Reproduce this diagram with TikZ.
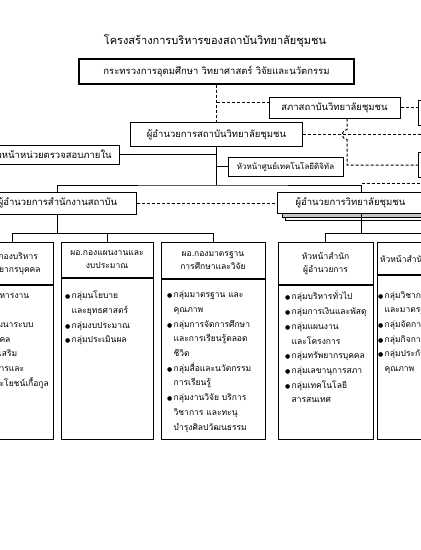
\documentclass[tikz,border=0pt]{standalone}
\usepackage{fontspec}
\setmainfont{Loma}[Script=Thai]
\newfontfamily\dotfont{DejaVu Sans}
\usepackage{tikz}
\usetikzlibrary{positioning, shadows}
\newcommand{\itm}{\makebox[6.5pt][l]{\dotfont\fontsize{6}{6}\selectfont ●}}
\newcommand{\cnt}{\hspace*{6.5pt}}
\tikzset{%
	unitbox/.style={
		draw,
		line width=1pt,
		fill=white,
		inner sep=0pt,
		font=\fontsize{9.5}{11}\selectfont
	},
	topbox/.style={unitbox, line width=1.7pt},
	headbox/.style={
		draw,
		line width=1pt,
		fill=white,
		anchor=north,
		align=center,
		inner sep=0pt,
		font=\fontsize{8.5}{13}\selectfont
	},
	bodybox/.style={draw, line width=1pt, anchor=north, inner sep=0pt},
	bodytext/.style={anchor=north west, align=left, inner sep=0pt, font=\fontsize{8.5}{14.7}\selectfont},
	link/.style={line width=1pt},
	dlink/.style={line width=1pt, dash pattern=on 3pt off 2pt},
}
\begin{document}
\begin{tikzpicture}[x=1pt, y=-1pt]
	\useasboundingbox (0,0) rectangle (421,550);
	\fill[white] (0,0) rectangle (421,550);
	\clip (0,0) rectangle (421,550);
	\coordinate (edgeR) at (430,0);
	
	% Title and ministry
	\node[font=\fontsize{11}{13}\selectfont] (title) at (215,41) {โครงสร้างการบริหารของสถาบันวิทยาลัยชุมชน};
	\node[topbox, minimum width=275pt, minimum height=25pt] (ministry) at (216.5,71.5) {กระทรวงการอุดมศึกษา วิทยาศาสตร์ วิจัยและนวัตกรรม};
	
	% Council and director
	\node[unitbox, minimum width=131pt, minimum height=21pt] (council) at (334.5,107.5) {สภาสถาบันวิทยาลัยชุมชน};
	\node[unitbox, minimum width=172pt, minimum height=24pt] (director) at (216.5,134.5) {ผู้อำนวยการสถาบันวิทยาลัยชุมชน};
	\node[unitbox, minimum width=60pt, minimum height=25pt, anchor=west] (rightA) at (418,112.5) {};
	\node[unitbox, minimum width=60pt, minimum height=25pt, anchor=west] (rightB) at (418,165) {};
	
	% Audit and digital units
	\node[unitbox, minimum width=136pt, minimum height=19pt] (audit) at (51,154.5) {หัวหน้าหน่วยตรวจสอบภายใน};
	\node[unitbox, minimum width=115pt, minimum height=19pt, font=\fontsize{8}{10}\selectfont] (digital) at (285.5,166.5) {หัวหน้าศูนย์เทคโนโลยีดิจิทัล};
	
	% Office and college
	\node[unitbox, minimum width=157pt, minimum height=22pt] (office) at (57.5,203) {ผู้อำนวยการสำนักงานสถาบัน};
	\node[unitbox, minimum height=21pt, anchor=west, text width=132pt, align=left, inner xsep=18pt,
		copy shadow={shadow xshift=8pt, shadow yshift=-7pt},
		copy shadow={shadow xshift=5pt, shadow yshift=-4pt, fill=gray!45}] (college) at (277,203) {ผู้อำนวยการวิทยาลัยชุมชน};
	
	% Division heads
	\node[headbox, minimum width=82pt, minimum height=42pt] (headA) at (12,242) {ผอ.กองบริหาร\\ทรัพยากรบุคคล};
	\node[headbox, minimum width=92pt, minimum height=35pt] (headB) at (107,242) {ผอ.กองแผนงานและ\\งบประมาณ};
	\node[headbox, minimum width=104pt, minimum height=36pt] (headC) at (213,242) {ผอ.กองมาตรฐาน\\การศึกษาและวิจัย};
	\node[headbox, minimum width=95pt, minimum height=42pt] (headD) at (325.5,242) {หัวหน้าสำนัก\\ผู้อำนวยการ};
	\node[headbox, minimum width=100pt, minimum height=32pt, text width=94pt, align=left, inner xsep=3pt] (headE) at (427,242) {หัวหน้าสำนักวิชาการ};
	
	% Division groups
	\node[bodybox, minimum width=82pt, minimum height=154pt] (bodyA) at (headA.south) {};
	\node[bodybox, minimum width=92pt, minimum height=161pt] (bodyB) at (headB.south) {};
	\node[bodybox, minimum width=104pt, minimum height=160pt] (bodyC) at (headC.south) {};
	\node[bodybox, minimum width=95pt, minimum height=154pt] (bodyD) at (headD.south) {};
	\node[bodybox, minimum width=100pt, minimum height=164pt] (bodyE) at (headE.south) {};
	
	\node[bodytext] (textA) at (-33,291) {\itm กลุ่มบริหารงาน\\\cnt บุคคล\\\itm กลุ่มพัฒนาระบบ\\\cnt งานบุคคล\\\itm กลุ่มส่งเสริม\\\cnt สวัสดิการและ\\\cnt สิทธิประโยชน์เกื้อกูล};
	\node[bodytext] (textB) at (65,291) {\itm กลุ่มนโยบาย\\\cnt และยุทธศาสตร์\\\itm กลุ่มงบประมาณ\\\itm กลุ่มประเมินผล};
	\node[bodytext] (textC) at (167,291) {\itm กลุ่มมาตรฐาน และ\\\cnt คุณภาพ\\\itm กลุ่มการจัดการศึกษา\\\cnt และการเรียนรู้ตลอด\\\cnt ชีวิต\\\itm กลุ่มสื่อและนวัตกรรม\\\cnt การเรียนรู้\\\itm กลุ่มงานวิจัย บริการ\\\cnt วิชาการ และทะนุ\\\cnt บำรุงศิลปวัฒนธรรม};
	\node[bodytext] (textD) at (285,291) {\itm กลุ่มบริหารทั่วไป\\\itm กลุ่มการเงินและพัสดุ\\\itm กลุ่มแผนงาน\\\cnt และโครงการ\\\itm กลุ่มทรัพยากรบุคคล\\\itm กลุ่มเลขานุการสภา\\\itm กลุ่มเทคโนโลยี\\\cnt สารสนเทศ};
	\node[bodytext] (textE) at (378,291) {\itm กลุ่มวิชาการ\\\cnt และมาตรฐาน\\\itm กลุ่มจัดการศึกษา\\\itm กลุ่มกิจการนักศึกษา\\\itm กลุ่มประกัน\\\cnt คุณภาพ};
	
	% Dashed links at the top
	\draw[dlink] (ministry.south) -- (director.north);
	\coordinate (toCouncil) at (216.5,102);
	\draw[dlink] (toCouncil) -- (toCouncil -| council.west);
	\draw[dlink] (council.east) -- (council.east -| rightA.west);
	\draw[dlink] (director.east) -- (director.east -| edgeR);
	\draw[dlink] ([xshift=12.5pt]council.south) -- ++(0,11) to[out=180, in=180, looseness=1.6] ++(0,10) |- (rightB.west);
	
	% Solid links
	\coordinate (split) at (216.5,185);
	\draw[link] (audit.east) -- (audit.east -| director.south);
	\draw[link] (digital.west -| director.south) -- (digital.west);
	\draw[link] (director.south) -- (split);
	\draw[link] (office.north) |- (split) -| (college.north);
	\draw[dlink] ([yshift=9pt]college.north) -- ([yshift=9pt]college.north -| edgeR);
	\draw[dlink] (office.east) -- (college.west);
	
	% Links to divisions
	\draw[link] (office.south) -- ++(0,19) coordinate (busL);
	\draw[link] (headA.north) |- (busL) -| (headC.north);
	\draw[link] (headB.north) -- (headB.north |- busL);
	\draw[link] (college.south) -- ++(0,19.5) coordinate (busR);
	\draw[link] (headD.north) |- (busR) -- (busR -| edgeR);
	\draw[link] (headE.north) -- (headE.north |- busR);
	
\end{tikzpicture}
\end{document}
